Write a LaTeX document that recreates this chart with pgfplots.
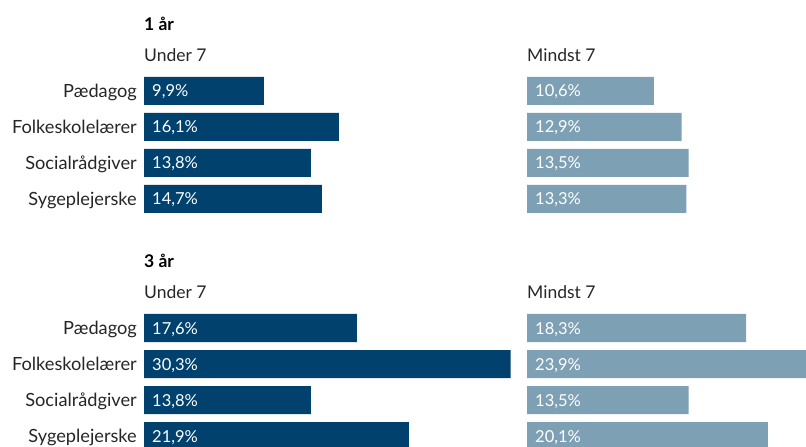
\documentclass[border=0pt]{standalone}
\usepackage{fontspec}
\setmainfont{Lato}
\usepackage{pgfplots}
\usepackage{pgfplotstable}
\pgfplotsset{compat=1.18}
\definecolor{dk}{RGB}{1,65,110}
\definecolor{lt}{RGB}{126,160,181}

\pgfplotstableread{
r v
0 9.9
1 16.1
2 13.8
3 14.7
}\aU
\pgfplotstableread{
r v
0 10.6
1 12.9
2 13.5
3 13.3
}\aM
\pgfplotstableread{
r v
0 17.6
1 30.3
2 13.8
3 21.9
}\bU
\pgfplotstableread{
r v
0 18.3
1 23.9
2 13.5
3 20.1
}\bM

\pgfplotsset{
  panel/.style={scale only axis, y=36pt, ymin=-0.5, ymax=3.5, y dir=reverse,
    xmin=0, enlargelimits=false, axis line style={draw=none}, tick style={draw=none},
    xtick=\empty, ytick=\empty, clip=false},
  leftpanel/.style={panel, x=12.1pt, xmax=31,
    ytick={0,1,2,3},
    yticklabels={Pædagog,Folkeskolelærer,Socialrådgiver,Sygeplejerske},
    yticklabel style={anchor=base east, inner sep=0pt, xshift=-7pt, yshift=-6.5pt,
      font=\fontsize{18.2}{20}\selectfont, text=black!85}},
  rightpanel/.style={panel, x=11.98pt, xmax=25},
  vals/.style={draw=none, mark=none, point meta=explicit,
    nodes near coords={\pgfmathprintnumber[fixed,fixed zerofill,precision=1,use comma,assume math mode=true]{\pgfplotspointmeta}\%},
    every node near coord/.style={anchor=base west, inner sep=0pt, xshift=8pt, yshift=-6pt,
      text=white, font=\fontsize{16.5}{20}\selectfont}},
}

\begin{document}
\begin{tikzpicture}
\path[clip, use as bounding box] (0,0) rectangle (806pt,447pt);
% titles
\node[anchor=base west, inner sep=0pt, font=\bfseries\fontsize{17.5}{20}\selectfont] at (144pt,416pt) {1 år};
\node[anchor=base west, inner sep=0pt, font=\fontsize{17.5}{20}\selectfont, text=black!85] at (144pt,385pt) {Under 7};
\node[anchor=base west, inner sep=0pt, font=\fontsize{17.5}{20}\selectfont, text=black!85] at (527pt,385pt) {Mindst 7};
\node[anchor=base west, inner sep=0pt, font=\bfseries\fontsize{17.5}{20}\selectfont] at (144pt,179pt) {3 år};
\node[anchor=base west, inner sep=0pt, font=\fontsize{17.5}{20}\selectfont, text=black!85] at (144pt,148pt) {Under 7};
\node[anchor=base west, inner sep=0pt, font=\fontsize{17.5}{20}\selectfont, text=black!85] at (527pt,148pt) {Mindst 7};

\begin{axis}[leftpanel, at={(144pt,230pt)}, anchor=south west]
\addplot[xbar, bar width=28pt, bar shift=0pt, fill=dk, draw=none] table[x=v, y=r] {\aU};
\addplot[vals] table[x expr=0, y=r, meta=v] {\aU};
\end{axis}
\begin{axis}[rightpanel, at={(527pt,230pt)}, anchor=south west]
\addplot[xbar, bar width=28pt, bar shift=0pt, fill=lt, draw=none] table[x=v, y=r] {\aM};
\addplot[vals] table[x expr=0, y=r, meta=v] {\aM};
\end{axis}
\begin{axis}[leftpanel, at={(144pt,-7pt)}, anchor=south west]
\addplot[xbar, bar width=28pt, bar shift=0pt, fill=dk, draw=none] table[x=v, y=r] {\bU};
\addplot[vals] table[x expr=0, y=r, meta=v] {\bU};
\end{axis}
\begin{axis}[rightpanel, at={(527pt,-7pt)}, anchor=south west]
\addplot[xbar, bar width=28pt, bar shift=0pt, fill=lt, draw=none] table[x=v, y=r] {\bM};
\addplot[vals] table[x expr=0, y=r, meta=v] {\bM};
\end{axis}
\end{tikzpicture}
\end{document}
